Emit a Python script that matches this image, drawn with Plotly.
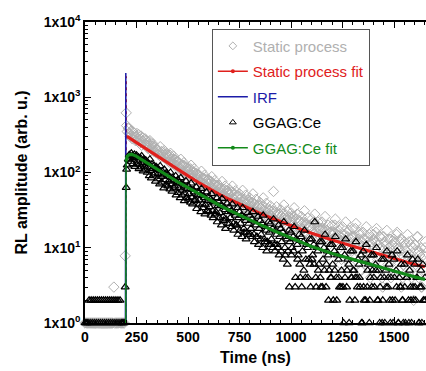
import plotly.graph_objects as go

# ---------------- data ----------------
TIME_STEP = 5  # ns, sampling step of the measured decays
# GGAG:Ce measured RL (0 ... 1650 ns, every 5 ns)
GGAG = (
    [1, 1, 1, 1]
    + [2, 1, 2, 1, 2, 1, 2, 1, 2, 1, 2, 1, 2, 1, 2, 1, 2, 1, 2, 1, 2, 1, 2, 1, 2, 1, 2, 1, 2, 1, 2]
    + [1, 1, 1, 1, 3]
    + [63, 125, 150, 172, 160, 181, 168, 150, 174, 158]
    + [170, 142, 160, 128, 155, 166, 134, 150, 121, 146]
    + [140, 118, 131, 150, 106, 128, 112, 124, 98, 119]
    + [115, 96, 108, 122, 88, 104, 92, 110, 80, 99]
    + [94, 76, 88, 100, 70, 85, 79, 66, 90, 74]
    + [80, 62, 74, 85, 58, 70, 66, 53, 77, 61]
    + [67, 52, 60, 72, 47, 59, 55, 44, 64, 50]
    + [56, 43, 51, 61, 38, 49, 46, 37, 55, 42]
    + [48, 35, 44, 52, 31, 41, 39, 30, 46, 36]
    + [41, 29, 37, 45, 26, 35, 32, 24, 39, 30]
    + [35, 25, 31, 38, 21, 29, 27, 20, 34, 25]
    + [30, 21, 27, 34, 18, 25, 23, 16, 29, 21]
    + [27, 18, 24, 30, 15, 22, 20, 14, 26, 18]
    + [23, 15, 21, 27, 13, 19, 17, 12, 22, 16]
    + [21, 13, 18, 24, 11, 17, 15, 10, 20, 14]
    + [18, 12, 16, 22, 10, 14, 13, 9, 17, 12]
    + [16, 10, 14, 19, 3, 13, 11, 8, 15, 4]
    + [14, 9, 12, 17, 4, 11, 10, 7, 13, 3]
    + [13, 8, 11, 22, 4, 10, 9, 6, 12, 3]
    + [12, 7, 10, 15, 3, 9, 8, 5, 11, 4]
    + [11, 2, 9, 14, 4, 8, 7, 3, 10, 5]
    + [10, 1, 8, 13, 3, 7, 6, 2, 9, 4]
    + [9, 5, 2, 12, 4, 7, 6, 3, 8, 1]
    + [9, 2, 7, 11, 3, 6, 1, 4, 8, 5]
    + [8, 3, 6, 10, 2, 5, 1, 4, 7, 2]
    + [7, 1, 5, 9, 3, 6, 2, 4, 8, 1]
    + [7, 2, 5, 9, 1, 4, 3, 6, 2, 1]
    + [6, 1, 4, 8, 2, 5, 3, 1, 7, 2]
    + [6, 2, 4, 7, 1, 3, 5, 1, 6, 2]
    + [4]
)
# Static process measured RL (0 ... 1650 ns, every 5 ns)
STATIC = (
    [1] * 28 + [3] + [1] * 10 + [7.8]
    + [620, 350, 390, 330, 300, 360, 280, 340, 310, 265]
    + [300, 260, 320, 245, 280, 230, 290, 255, 240, 270]
    + [250, 210, 235, 265, 195, 225, 240, 190, 215, 205]
    + [205, 175, 190, 220, 160, 185, 170, 195, 155, 180]
    + [170, 140, 160, 180, 130, 150, 165, 125, 148, 140]
    + [140, 115, 130, 150, 105, 125, 135, 100, 120, 112]
    + [115, 92, 108, 125, 86, 100, 112, 82, 98, 95]
    + [95, 76, 88, 104, 70, 84, 92, 66, 82, 80]
    + [80, 62, 74, 88, 58, 70, 78, 55, 68, 66]
    + [68, 52, 62, 76, 48, 60, 66, 46, 58, 55]
    + [60, 45, 54, 66, 41, 52, 57, 39, 50, 48]
    + [52, 38, 46, 58, 35, 44, 50, 33, 43, 41]
    + [46, 33, 40, 52, 30, 38, 44, 29, 37, 36]
    + [40, 29, 36, 46, 27, 34, 39, 25, 33, 31]
    + [36, 26, 31, 56, 23, 30, 35, 22, 29, 28]
    + [32, 23, 28, 37, 20, 27, 31, 19, 26, 25]
    + [29, 20, 25, 34, 18, 24, 28, 16, 23, 22]
    + [26, 18, 22, 31, 16, 21, 25, 15, 20, 19]
    + [24, 16, 20, 28, 14, 19, 22, 13, 18, 17]
    + [22, 14, 18, 26, 12, 17, 20, 11, 16, 15]
    + [20, 13, 16, 24, 11, 15, 19, 10, 14, 7]
    + [19, 12, 15, 22, 10, 14, 17, 6, 13, 9]
    + [18, 11, 14, 21, 9, 13, 16, 5, 12, 8]
    + [16, 10, 13, 19, 8, 12, 15, 4, 11, 7]
    + [15, 9, 12, 18, 7, 11, 14, 5, 10, 3]
    + [14, 8, 11, 17, 6, 10, 13, 4, 9, 7]
    + [13, 8, 10, 16, 5, 9, 12, 3, 8, 6]
    + [12, 7, 9, 15, 5, 8, 11, 4, 7, 2]
    + [11, 6, 9, 14, 4, 8, 10, 3, 7, 5]
    + [10]
)
TIME = list(range(0, TIME_STEP * len(GGAG), TIME_STEP))

# interleaved channels (202 ... 1652 ns, every 10 ns)
GGAG_B = (
    [110, 150, 140, 130, 120, 128, 112, 118, 104, 110]
    + [100, 90, 84, 92, 76, 82, 70, 74, 62, 68]
    + [66, 60, 56, 62, 50, 54, 46, 50, 42, 46]
    + [44, 40, 38, 42, 33, 37, 30, 34, 28, 31]
    + [30, 27, 25, 28, 22, 25, 20, 23, 18, 21]
    + [21, 19, 17, 20, 15, 17, 14, 16, 13, 15]
    + [15, 14, 12, 14, 11, 13, 10, 12, 9, 11]
    + [11, 10, 9, 11, 8, 9, 7, 8, 6, 3]
    + [8, 9, 4, 7, 6, 3, 5, 7, 4, 6]
    + [7, 6, 3, 5, 4, 3, 5, 6, 2, 4]
    + [6, 5, 2, 4, 3, 3, 4, 5, 1, 4]
    + [5, 4, 3, 4, 1, 3, 2, 5, 2, 3]
    + [4, 5, 2, 3, 1, 4, 3, 4, 1, 2]
    + [4, 3, 1, 3, 2, 3, 4, 1, 2, 3]
    + [3, 4, 1, 3, 2, 2]
)
STATIC_B = (
    [420, 380, 310, 350, 290, 330, 270, 305, 260, 280]
    + [230, 255, 205, 225, 185, 200, 170, 190, 160, 175]
    + [155, 170, 140, 150, 125, 138, 112, 126, 104, 116]
    + [102, 112, 92, 100, 83, 92, 75, 84, 70, 77]
    + [70, 76, 62, 68, 56, 62, 52, 57, 48, 53]
    + [50, 55, 44, 48, 40, 44, 37, 41, 34, 38]
    + [36, 40, 32, 35, 29, 33, 27, 31, 25, 29]
    + [27, 31, 24, 28, 22, 26, 21, 24, 19, 23]
    + [22, 26, 19, 23, 18, 21, 16, 20, 15, 19]
    + [18, 22, 16, 19, 14, 18, 13, 17, 8, 16]
    + [16, 20, 14, 17, 6, 15, 12, 16, 9, 14]
    + [14, 18, 12, 15, 5, 13, 10, 14, 7, 12]
    + [13, 16, 11, 14, 4, 12, 9, 13, 6, 11]
    + [12, 15, 10, 13, 4, 11, 8, 12, 5, 10]
    + [11, 14, 9, 3, 8, 12]
)
TIME_B = list(range(202, 202 + 10 * len(GGAG_B), 10))

# fits
STATIC_FIT_T = [201, 210, 250, 300, 350, 400, 450, 500, 550, 600, 650, 700, 750, 800, 850, 900,
                950, 1000, 1050, 1100, 1150, 1200, 1300, 1400, 1500, 1550, 1600, 1650]
STATIC_FIT_V = [300, 294, 250, 203, 167, 137, 110, 90, 74, 61, 51.5, 44, 37.8, 32.8, 28.6, 25,
                22, 19.6, 17.5, 15.6, 14, 12.7, 10.5, 8.7, 7.2, 6.6, 6.0, 5.6]
STATIC_FIT_SPIKE_T = [200, 200]
STATIC_FIT_SPIKE_V = [0.8, 1900]

GGAG_FIT_T = [199, 205, 215, 228, 250, 300, 350, 400, 450, 500, 550, 600, 650, 700, 750, 800,
              850, 900, 950, 1000, 1050, 1100, 1150, 1200, 1300, 1400, 1500, 1600, 1650]
GGAG_FIT_V = [140, 165, 173, 174, 164, 134, 111, 91, 75, 63, 52.5, 44, 37, 31.5, 27, 23.5,
              20.3, 17.6, 15.3, 13.4, 11.8, 10.4, 9.3, 8.4, 7.0, 5.8, 4.9, 4.1, 3.8]
GGAG_FIT_RISE_T = [198, 199]
GGAG_FIT_RISE_V = [0.5, 140]

IRF_T = [150, 196, 198, 199, 200, 250]
IRF_V = [0.3, 0.3, 2100, 150, 0.3, 0.3]

Y_TICKS = [1, 10, 100, 1000, 10000]
Y_TICK_TEXT = ["1x10<sup>0</sup>", "1x10<sup>1</sup>", "1x10<sup>2</sup>", "1x10<sup>3</sup>", "1x10<sup>4</sup>"]
X_TICKS = [0, 250, 500, 750, 1000, 1250, 1500]

# ---------------- styles ----------------
GREY = "#b0b0b0"
RED = "#e0201c"
BLUE = "#1c1ca8"
GREEN = "#138a1a"
FONT = "Arial, Liberation Sans, sans-serif"


def lg(text, color):
    return f"<span style='color:{color}'>{text}</span>"


diamond = dict(symbol="diamond-open", size=8, color=GREY, line=dict(width=1))
triangle = dict(symbol="triangle-up-open", size=7, color="#000000", line=dict(width=1.2))

fig = go.Figure()
fig.add_trace(go.Scatter(x=TIME, y=STATIC, mode="markers", showlegend=False, cliponaxis=False, marker=diamond))
fig.add_trace(go.Scatter(x=TIME_B, y=STATIC_B, mode="markers", showlegend=False, cliponaxis=False, marker=diamond))
fig.add_trace(go.Scatter(x=STATIC_FIT_T, y=STATIC_FIT_V, mode="lines", showlegend=False,
                         line=dict(color=RED, width=3.2)))
fig.add_trace(go.Scatter(x=STATIC_FIT_SPIKE_T, y=STATIC_FIT_SPIKE_V, mode="lines", showlegend=False,
                         line=dict(color=RED, width=1.5, dash="dot")))
fig.add_trace(go.Scatter(x=IRF_T, y=IRF_V, mode="lines", showlegend=False,
                         line=dict(color=BLUE, width=1.5)))
fig.add_trace(go.Scatter(x=TIME, y=GGAG, mode="markers", showlegend=False, cliponaxis=False, marker=triangle))
fig.add_trace(go.Scatter(x=TIME_B, y=GGAG_B, mode="markers", showlegend=False, cliponaxis=False, marker=triangle))
fig.add_trace(go.Scatter(x=GGAG_FIT_T, y=GGAG_FIT_V, mode="lines", showlegend=False,
                         line=dict(color=GREEN, width=3.2)))
fig.add_trace(go.Scatter(x=GGAG_FIT_RISE_T, y=GGAG_FIT_RISE_V, mode="lines", showlegend=False,
                         line=dict(color=GREEN, width=1.5)))

# legend entries
fig.add_trace(go.Scatter(x=[None], y=[None], mode="markers", name=lg("Static process", "#b0b0b0"),
                         legendgroup="a", marker=dict(symbol="diamond-open", size=6, color=GREY)))
fig.add_trace(go.Scatter(x=[None], y=[None], mode="lines+markers", name=lg("Static process fit", RED),
                         legendgroup="b", line=dict(color=RED, width=1.5), marker=dict(size=4, color=RED)))
fig.add_trace(go.Scatter(x=[None], y=[None], mode="lines", name=lg("IRF", BLUE), legendgroup="c",
                         line=dict(color=BLUE, width=1.5)))
fig.add_trace(go.Scatter(x=[None], y=[None], mode="markers", name=lg("GGAG:Ce", "#000000"),
                         legendgroup="d", marker=dict(symbol="triangle-up-open", size=6, color="#000000")))
fig.add_trace(go.Scatter(x=[None], y=[None], mode="lines+markers", name=lg("GGAG:Ce fit", GREEN),
                         legendgroup="e", line=dict(color=GREEN, width=1.5), marker=dict(size=4, color=GREEN)))

bold = dict(family=FONT, size=14, color="#000000", weight="bold")

fig.update_layout(
    width=426, height=371,
    margin=dict(l=85, r=0, t=22, b=48),
    paper_bgcolor="white", plot_bgcolor="white",
    font=dict(family=FONT, color="#000000"),
    xaxis=dict(range=[0, 1655], tickmode="array", tickvals=X_TICKS, tickfont=bold,
               showline=True, linecolor="#000000", linewidth=1.5, mirror="allticks",
               ticks="inside", ticklen=6, tickwidth=1.2, tickcolor="#000000",
               minor=dict(ticks="inside", ticklen=3, dtick=50, tickcolor="#000000", showgrid=False),
               showgrid=False, zeroline=False,
               title=dict(text="Time (ns)", standoff=8, font=dict(family=FONT, size=16, weight="bold"))),
    yaxis=dict(type="log", range=[0, 4], tickmode="array", tickvals=Y_TICKS, ticktext=Y_TICK_TEXT,
               tickfont=bold, showline=True, linecolor="#000000", linewidth=1.5, mirror=False,
               ticks="inside", ticklen=6, tickwidth=1.2, tickcolor="#000000",
               minor=dict(ticks="inside", ticklen=3, tickmode="array",
                          tickvals=[m * d for d in [1, 10, 100, 1000] for m in range(2, 10)],
                          tickcolor="#000000", showgrid=False),
               showgrid=False, zeroline=False,
               title=dict(text="RL amplitude (arb. u.)", standoff=12,
                          font=dict(family=FONT, size=16, weight="bold"))),
    legend=dict(x=0.372, y=0.978, xanchor="left", yanchor="top", bgcolor="white",
                bordercolor="#555555", borderwidth=1, tracegroupgap=3,
                font=dict(family=FONT, size=15)),
)

fig.write_html("out.html")
